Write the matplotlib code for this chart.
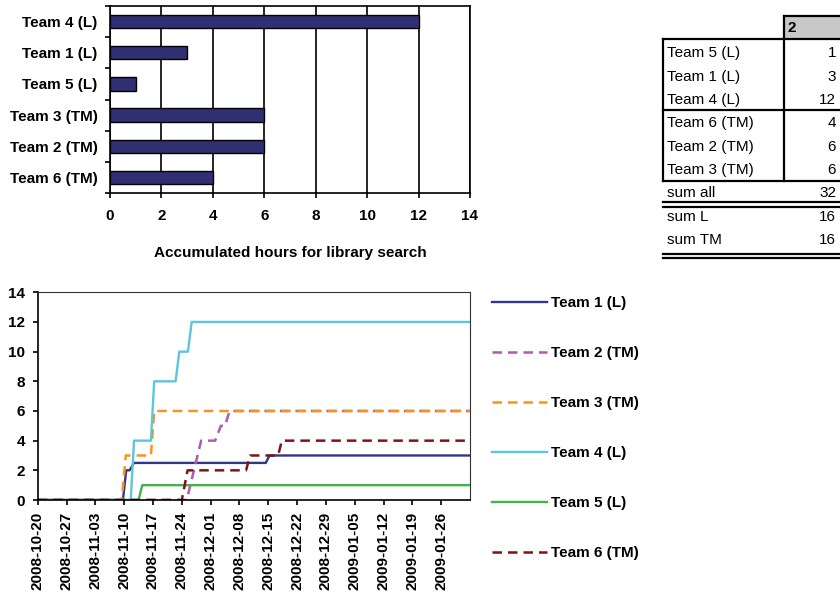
import pandas as pd
import matplotlib.pyplot as plt
from matplotlib.ticker import MultipleLocator, FixedLocator

plt.rcParams['font.family'] = ['Liberation Sans', 'DejaVu Sans']

# datos del grafico de barras (de abajo hacia arriba)
bar_teams = ['Team 6 (TM)', 'Team 2 (TM)', 'Team 3 (TM)', 'Team 5 (L)', 'Team 1 (L)', 'Team 4 (L)']
bar_hours = [4, 6, 6, 1, 3, 12]

# datos de la tabla
table_header = '2'
table_l_teams = ['Team 5 (L)', 'Team 1 (L)', 'Team 4 (L)']
table_l_hours = [1, 3, 12]
table_tm_teams = ['Team 6 (TM)', 'Team 2 (TM)', 'Team 3 (TM)']
table_tm_hours = [4, 6, 6]

# series acumuladas (dias desde la fecha de inicio, horas)
start_date = pd.Timestamp('2008-10-20')
end_date = pd.Timestamp('2009-02-02')
team1_days = [0, 20.7, 21.5, 22.3, 23.4, 55.4, 56.3, 105]
team1_hours = [0, 0, 2, 2, 2.5, 2.5, 3, 3]
team2_days = [0, 36.2, 39.7, 43.1, 44.5, 45.5, 46.6, 105]
team2_hours = [0, 0, 4, 4, 5, 5, 6, 6]
team3_days = [0, 20.4, 21.4, 27.5, 28.3, 105]
team3_hours = [0, 0, 3, 3, 6, 6]
team4_days = [0, 22.6, 23.4, 27.5, 28.3, 33.5, 34.4, 36.5, 37.4, 105]
team4_hours = [0, 0, 4, 4, 8, 8, 10, 10, 12, 12]
team5_days = [0, 24.5, 25.4, 105]
team5_hours = [0, 0, 1, 1]
team6_days = [0, 35.0, 36.4, 50.6, 51.6, 58.4, 59.3, 105]
team6_hours = [0, 0, 2, 2, 3, 3, 4, 4]

series = [
    ('Team 1 (L)', team1_days, team1_hours, '#353585', '-'),
    ('Team 2 (TM)', team2_days, team2_hours, '#B05AB0', '--'),
    ('Team 3 (TM)', team3_days, team3_hours, '#F7941D', '--'),
    ('Team 4 (L)', team4_days, team4_hours, '#5BC6DC', '-'),
    ('Team 5 (L)', team5_days, team5_hours, '#3DB54A', '-'),
    ('Team 6 (TM)', team6_days, team6_hours, '#7F1416', '--'),
]

W, H = 840, 594
fs = 11
fig = plt.figure(figsize=(8.4, 5.94), dpi=100)

# capa para la tabla (coordenadas en pixeles)
ax_t = fig.add_axes([0, 0, 1, 1])
ax_t.set_xlim(0, W)
ax_t.set_ylim(H, 0)
ax_t.axis('off')

lw_t = 1.6
x_end = 839.5
ax_t.fill_between([784, x_end], 15.7, 39.3, color='#C8C8C8', lw=0)
ax_t.plot([784, x_end], [15.7, 15.7], color='black', lw=lw_t)
ax_t.plot([784, 784], [15.7, 181], color='black', lw=lw_t)
ax_t.plot([663.3, 663.3], [39.3, 181], color='black', lw=lw_t)
for yy in [39.3, 110, 181, 202.3, 207.3, 254.3, 257.7]:
    ax_t.plot([663.3, x_end], [yy, yy], color='black', lw=lw_t)

ax_t.text(787, 27.5, table_header, fontsize=fs, fontweight='bold', va='center', ha='left')
rows = list(zip(table_l_teams, table_l_hours)) + list(zip(table_tm_teams, table_tm_hours))
rows.append(('sum all', sum(table_l_hours) + sum(table_tm_hours)))
rows.append(('sum L', sum(table_l_hours)))
rows.append(('sum TM', sum(table_tm_hours)))
row_y = [53.3, 76.7, 100, 123.3, 146.7, 170, 193.3, 217.3, 240]
for (name, val), yy in zip(rows, row_y):
    ax_t.text(667, yy, name, fontsize=fs, va='center', ha='left')
    ax_t.text(836, yy, str(val), fontsize=fs, va='center', ha='right')

# GRAFICO 1: barras
ax1 = fig.add_axes([110 / W, 1 - 193.3 / H, 360 / W, 187.6 / H])
ypos = list(range(len(bar_teams)))
ax1.barh(ypos, bar_hours, height=0.43, color='#2F2F72', edgecolor='black', lw=1, zorder=3)
ax1.set_xlim(0, 14)
ax1.set_ylim(-0.5, len(bar_teams) - 0.5)
ax1.xaxis.set_major_locator(MultipleLocator(2))
ax1.grid(axis='x', color='black', lw=1.2, zorder=0)
ax1.set_axisbelow(True)
for s in ax1.spines.values():
    s.set_color('black')
    s.set_linewidth(1.2)
ax1.set_yticks(ypos)
ax1.set_yticklabels(bar_teams, fontsize=fs, fontweight='bold')
ax1.yaxis.set_minor_locator(FixedLocator([i - 0.5 for i in range(len(bar_teams) + 1)]))
ax1.tick_params(axis='y', which='major', length=0, pad=9)
ax1.tick_params(axis='y', which='minor', length=3.6, width=1.2, direction='out')
ax1.tick_params(axis='x', length=3.6, width=1.2, direction='out', pad=8, labelsize=fs)
for lab in ax1.get_xticklabels():
    lab.set_fontweight('bold')
ax1.set_xlabel('Accumulated hours for library search', fontsize=fs, fontweight='bold', labelpad=16)

# GRAFICO 2: horas acumuladas en el tiempo
ax2 = fig.add_axes([37.7 / W, 1 - 500 / H, 432.3 / W, 207.7 / H])
for name, days, hours, col, ls in series:
    dates = start_date + pd.to_timedelta(days, unit='D')
    if ls == '--':
        ax2.plot(dates, hours, color=col, lw=1.8, ls=(0, (3.8, 2.4)), label=name)
    else:
        ax2.plot(dates, hours, color=col, lw=1.7, label=name)
ax2.set_xlim(start_date, end_date)
ax2.set_ylim(0, 14)
ax2.yaxis.set_major_locator(MultipleLocator(2))
week_ticks = pd.date_range(start_date, periods=15, freq='7D')
ax2.set_xticks(week_ticks)
ax2.set_xticklabels([d.strftime('%Y-%m-%d') for d in week_ticks], rotation=90,
                    fontsize=fs, fontweight='bold')
for lab in ax2.get_yticklabels():
    lab.set_fontweight('bold')
ax2.tick_params(axis='y', length=3.6, width=1.2, direction='out', pad=5.5, labelsize=fs)
ax2.tick_params(axis='x', length=3.6, width=1.2, direction='out', pad=5)
ax2.spines['left'].set_linewidth(1.2)
ax2.spines['bottom'].set_linewidth(1.2)
ax2.spines['top'].set_color('#333333')
ax2.spines['right'].set_color('#333333')

leg = fig.legend(loc='upper left', bbox_to_anchor=(492.3 / W, 1 - 296.5 / H), frameon=False,
                 handlelength=3.6, handletextpad=0.27, labelspacing=2.35,
                 borderpad=0, borderaxespad=0, prop={'weight': 'bold', 'size': fs})

fig.savefig('out.png', dpi=100)
